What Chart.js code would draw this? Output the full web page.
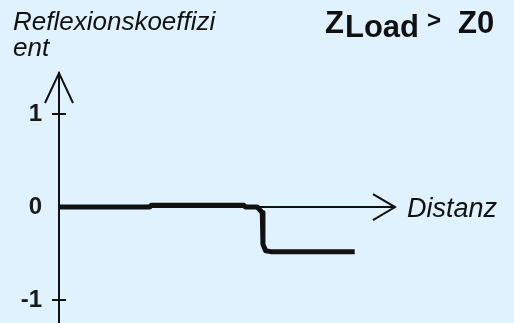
<!DOCTYPE html>
<html>
<head>
<meta charset="utf-8">
<script src="https://cdn.jsdelivr.net/npm/chart.js@4.4.1/dist/chart.umd.min.js"></script>
<style>
  html, body { margin: 0; padding: 0; background: #dff2fd; }
  canvas { display: block; }
</style>
</head>
<body>
<canvas id="myChart" width="514" height="323"></canvas>
<script>
// values
var distanz = [0, 27, 27.5, 55, 55.5, 59, 60.5, 60.7, 61.5, 63, 88];
var reflexion = [0, 0, 0.02, 0.02, 0, 0, -0.06, -0.4, -0.47, -0.48, -0.48];
var yTicks = [-1, 0, 1];

var ink = '#111';

// background, x axis line, arrows, tick crosses, texts
var deco = {
  id: 'deco',
  beforeDraw: function(chart) {
    var ctx = chart.ctx;
    ctx.save();
    ctx.fillStyle = '#dff2fd';
    ctx.fillRect(0, 0, chart.width, chart.height);
    ctx.restore();
  },
  afterDraw: function(chart) {
    var ctx = chart.ctx;
    var xs = chart.scales.x, ys = chart.scales.y;
    var x0 = xs.getPixelForValue(0), y0 = ys.getPixelForValue(0);
    var xEnd = xs.getPixelForValue(xs.max), yTop = chart.chartArea.top;
    ctx.save();
    ctx.strokeStyle = ink;
    ctx.lineWidth = 2;
    // x axis
    ctx.beginPath();
    ctx.moveTo(x0, y0);
    ctx.lineTo(xEnd, y0);
    ctx.stroke();
    // tick marks across the y axis
    yTicks.forEach(function(v) {
      if (v === 0) return;
      var py = ys.getPixelForValue(v);
      ctx.beginPath();
      ctx.moveTo(x0 - 7, py);
      ctx.lineTo(x0 + 7, py);
      ctx.stroke();
    });
    // arrow heads
    ctx.beginPath();
    ctx.moveTo(x0 - 14, yTop + 30);
    ctx.lineTo(x0, yTop);
    ctx.lineTo(x0 + 14, yTop + 30);
    ctx.stroke();
    ctx.beginPath();
    ctx.moveTo(xEnd - 22, y0 - 13);
    ctx.lineTo(xEnd, y0);
    ctx.lineTo(xEnd - 22, y0 + 13);
    ctx.stroke();

    ctx.fillStyle = ink;
    ctx.textBaseline = 'alphabetic';
    ctx.textAlign = 'left';
    ctx.font = 'italic 26px "Liberation Sans", Arial, sans-serif';
    ctx.fillText('Reflexionskoeffizi', 13, 30);
    ctx.fillText('ent', 13, 56);
    ctx.font = 'italic 27px "Liberation Sans", Arial, sans-serif';
    ctx.fillText('Distanz', 407, y0 + 10);

    ctx.font = 'bold 31px "Liberation Sans", Arial, sans-serif';
    ctx.fillText('Z', 325, 33);
    ctx.fillText('Load', 345, 37);
    ctx.fillText('Z0', 458, 33);
    ctx.font = 'bold 24px "Liberation Sans", Arial, sans-serif';
    ctx.fillText('>', 427, 28);
    ctx.restore();
  }
};

var ctx = document.getElementById('myChart').getContext('2d');
var chart = new Chart(ctx, {
  type: 'line',
  data: {
    datasets: [{
      data: distanz.map(function(d, i) { return {x: d, y: reflexion[i]}; }),
      borderColor: ink,
      borderWidth: 5,
      pointRadius: 0,
      tension: 0,
      borderJoinStyle: 'round',
      fill: false
    }]
  },
  options: {
    responsive: false,
    animation: false,
    devicePixelRatio: 1,
    layout: { padding: { top: 73, right: 119, bottom: 0, left: 0 } },
    plugins: { legend: { display: false }, tooltip: { enabled: false } },
    scales: {
      x: {
        type: 'linear',
        min: 0,
        max: 100,
        display: false
      },
      y: {
        min: -1.247,
        max: 1.441,
        position: 'left',
        afterFit: function(s) {
          s.width = 59;
          s.paddingTop = 0;
          s.paddingBottom = 0;
        },
        afterBuildTicks: function(s) {
          s.ticks = yTicks.map(function(v) { return {value: v}; });
        },
        grid: { display: false, drawTicks: false },
        border: { display: true, color: ink, width: 2 },
        ticks: {
          padding: 17,
          color: '#1a1a1a',
          font: { family: '"Liberation Sans", Arial, sans-serif', size: 24, weight: 'bold' }
        }
      }
    }
  },
  plugins: [deco]
});
</script>
</body>
</html>
